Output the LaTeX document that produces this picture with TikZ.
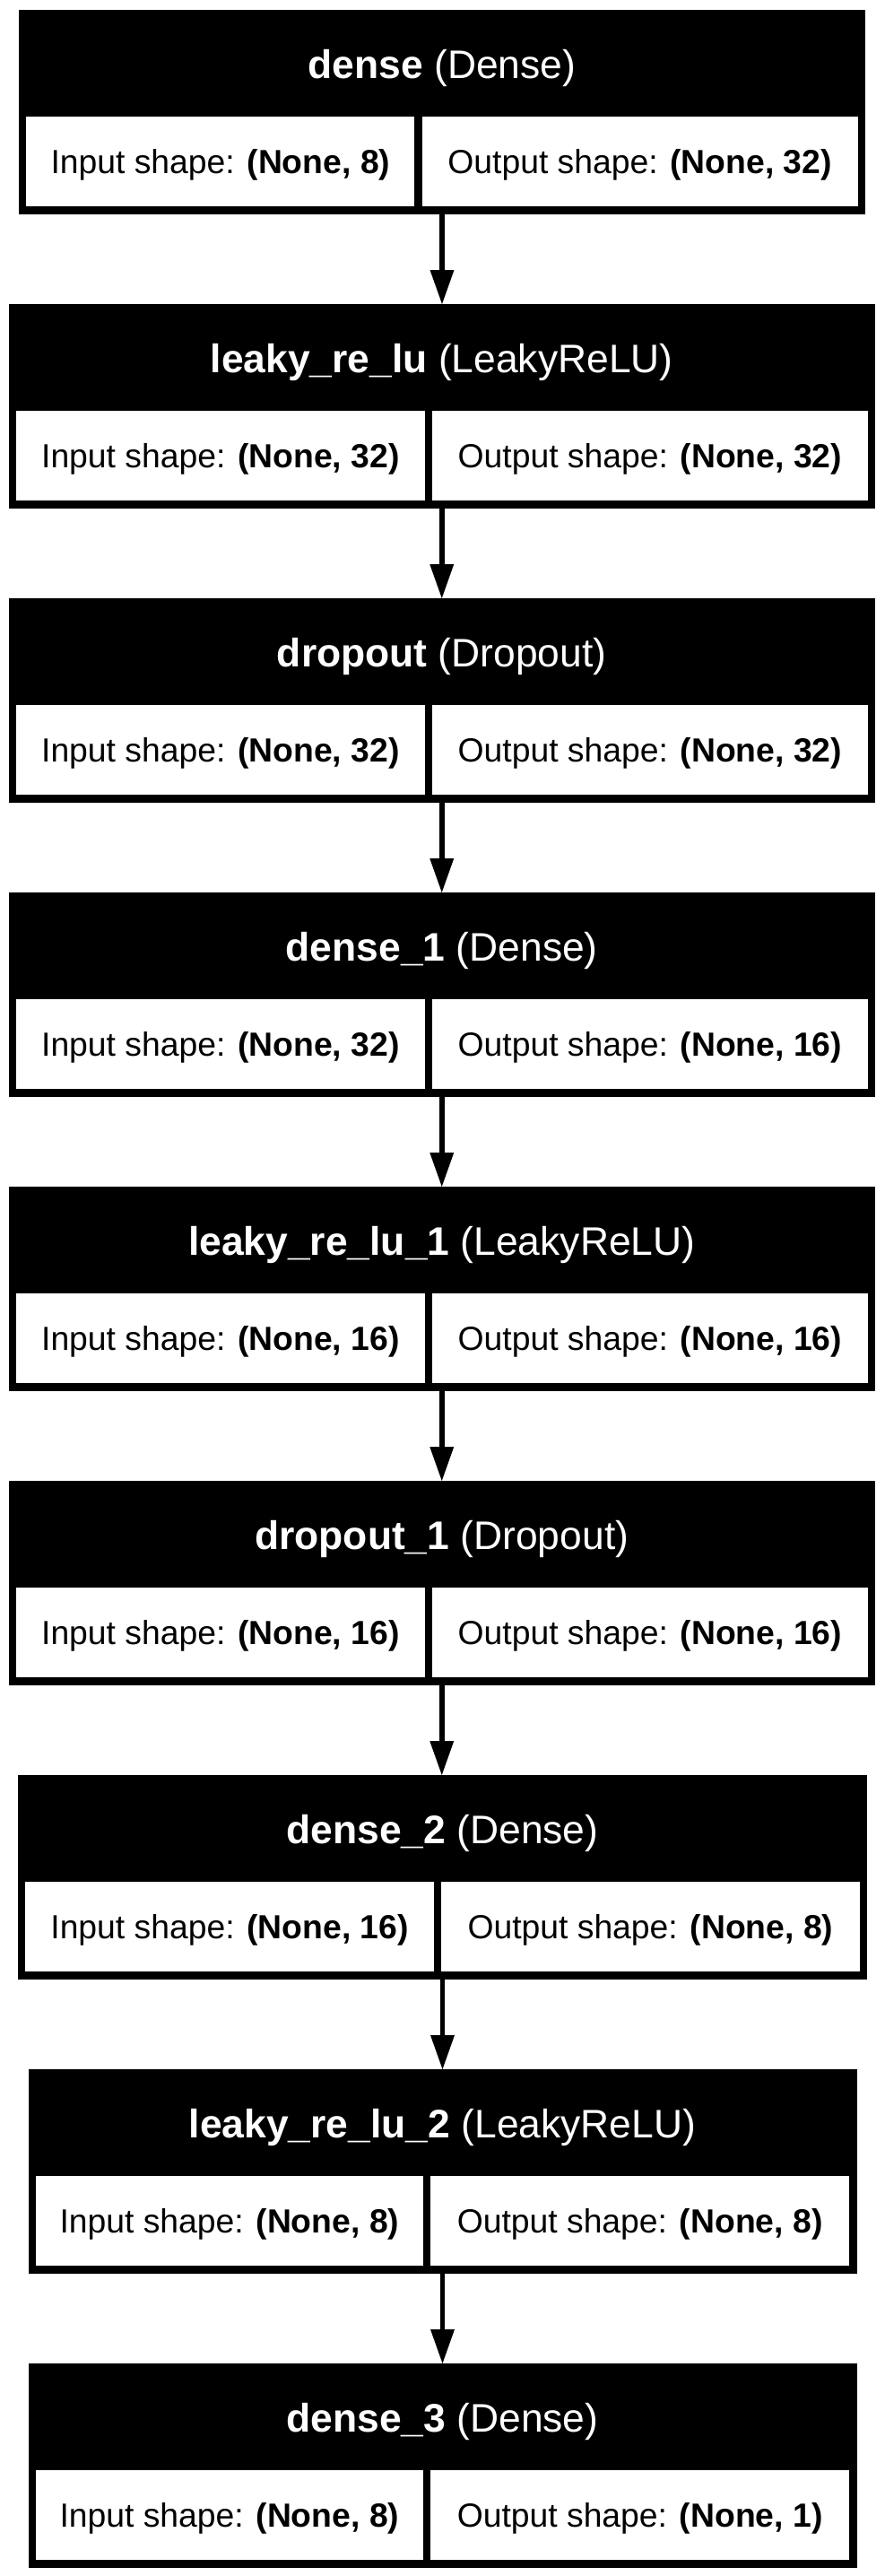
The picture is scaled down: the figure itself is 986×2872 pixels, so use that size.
\documentclass[tikz,border=0pt]{standalone}
\usepackage{fontspec}
\setmainfont{Liberation Sans}
\usetikzlibrary{arrows.meta}
\tikzset{
  layerbox/.style={rectangle, fill=black, draw=none, inner sep=0pt, outer sep=0pt, anchor=north west},
  cellbox/.style={rectangle, fill=white, draw=none, inner sep=0pt, outer sep=0pt, anchor=north west},
  titletext/.style={anchor=base, inner sep=0pt, text=white, font=\fontsize{44.4}{50}\selectfont},
  celltext/.style={anchor=base, inner sep=0pt, text=black, font=\fontsize{37.3}{44}\selectfont},
  flow/.style={line width=5.5pt, -{Triangle[length=38pt,width=27pt,line width=0pt]}},
}
% id, T, L, R, D, title, input, output
\newcommand\mklayer[8]{%
  \pgfmathsetmacro\lyW{#4-#3}%
  \pgfmathsetmacro\lyA{#3+8.4}%
  \pgfmathsetmacro\lyB{#5-4.2}%
  \pgfmathsetmacro\lyC{#5+4.2}%
  \pgfmathsetmacro\lyE{#4-8.4}%
  \pgfmathsetmacro\lyWa{\lyB-\lyA}%
  \pgfmathsetmacro\lyWb{\lyE-\lyC}%
  \pgfmathsetmacro\lyTa{#2+119}%
  \pgfmathsetmacro\lyTc{#2+76}%
  \pgfmathsetmacro\lyTd{#2+182}%
  \pgfmathsetmacro\lyM{(#3+#4)/2}%
  \pgfmathsetmacro\lyP{(\lyA+\lyB)/2}%
  \pgfmathsetmacro\lyQ{(\lyC+\lyE)/2}%
  \node[layerbox, minimum width=\lyW pt, minimum height=228pt] (#1) at (#3,#2) {};
  \node[cellbox, minimum width=\lyWa pt, minimum height=100pt] (#1in) at (\lyA,\lyTa) {};
  \node[cellbox, minimum width=\lyWb pt, minimum height=100pt] (#1out) at (\lyC,\lyTa) {};
  \node[titletext] (#1title) at (\lyM,\lyTc) {#6};
  \node[celltext] (#1intext) at (\lyP,\lyTd) {Input shape: \textbf{(None, #7)}};
  \node[celltext] (#1outtext) at (\lyQ,\lyTd) {Output shape: \textbf{(None, #8)}};
}
\begin{document}
\begin{tikzpicture}[x=1pt,y=-1pt]
\fill[white] (0,0) rectangle (986,2872);
\useasboundingbox (0,0) rectangle (986,2872);
\mklayer{b1}{11}{21}{965}{466.5}{\textbf{dense} (Dense)}{8}{32}
\mklayer{b2}{339}{9.5}{976}{478}{\textbf{leaky\_re\_lu} (LeakyReLU)}{32}{32}
\mklayer{b3}{667}{9.5}{976}{478}{\textbf{dropout} (Dropout)}{32}{32}
\mklayer{b4}{995}{9.5}{976}{478}{\textbf{dense\_1} (Dense)}{32}{16}
\mklayer{b5}{1323}{9.5}{976}{478}{\textbf{leaky\_re\_lu\_1} (LeakyReLU)}{16}{16}
\mklayer{b6}{1651}{9.5}{976}{478}{\textbf{dropout\_1} (Dropout)}{16}{16}
\mklayer{b7}{1979}{20}{967}{488}{\textbf{dense\_2} (Dense)}{16}{8}
\mklayer{b8}{2307}{31.5}{955.5}{476}{\textbf{leaky\_re\_lu\_2} (LeakyReLU)}{8}{8}
\mklayer{b9}{2635}{31.5}{955.5}{476}{\textbf{dense\_3} (Dense)}{8}{1}
\draw[flow] (b1.south) -- (b1.south |- b2.north);
\draw[flow] (b2.south) -- (b2.south |- b3.north);
\draw[flow] (b3.south) -- (b3.south |- b4.north);
\draw[flow] (b4.south) -- (b4.south |- b5.north);
\draw[flow] (b5.south) -- (b5.south |- b6.north);
\draw[flow] (b6.south) -- (b6.south |- b7.north);
\draw[flow] (b7.south) -- (b7.south |- b8.north);
\draw[flow] (b8.south) -- (b8.south |- b9.north);
\end{tikzpicture}
\end{document}
